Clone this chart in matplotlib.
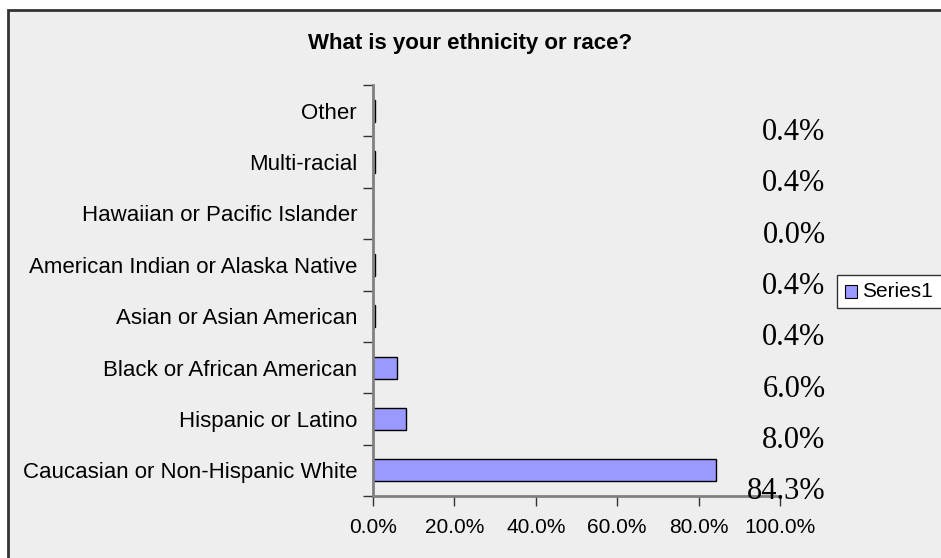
import matplotlib.pyplot as plt
from matplotlib.patches import Rectangle
from matplotlib.ticker import FuncFormatter

categories = ["Caucasian or Non-Hispanic White", "Hispanic or Latino",
              "Black or African American", "Asian or Asian American",
              "American Indian or Alaska Native", "Hawaiian or Pacific Islander",
              "Multi-racial", "Other"]
values = [84.3, 8.0, 6.0, 0.4, 0.4, 0.0, 0.4, 0.4]
xticks = [0, 20, 40, 60, 80, 100]

fig = plt.figure(figsize=(9.41, 5.58), dpi=100)
fig.patch.set_facecolor("white")

# outer chart frame (gray area with dark border on left/top)
frame = Rectangle((8 / 941, -0.01), 1, 1.01 - 9.5 / 558,
                  transform=fig.transFigure, facecolor="#eeeeee",
                  edgecolor="#333333", linewidth=2, zorder=-10)
fig.patches.append(frame)

ax = fig.add_axes([373 / 941, 62 / 558, 407 / 941, 411 / 558])
ax.set_facecolor("none")

pos = list(range(len(categories)))
ax.barh(pos, values, height=0.43, color="#9999ff", edgecolor="black",
        linewidth=1, zorder=1)

ax.set_xlim(0, 100)
ax.set_ylim(-0.5, len(categories) - 0.5)
ax.set_xticks(xticks)
ax.xaxis.set_major_formatter(FuncFormatter(lambda v, p: "%.1f%%" % v))
ax.set_yticks(pos)
ax.set_yticklabels(categories)
ax.set_yticks([p - 0.5 for p in pos] + [len(categories) - 0.5], minor=True)

for s in ["top", "right"]:
    ax.spines[s].set_visible(False)
for s in ["left", "bottom"]:
    ax.spines[s].set_color("#808080")
    ax.spines[s].set_linewidth(2)
    ax.spines[s].set_zorder(5)

ax.tick_params(axis="y", which="major", length=0, pad=11.5, labelsize=16)
ax.tick_params(axis="y", which="minor", length=7, color="#333333", width=1)
ax.tick_params(axis="x", length=7, color="#333333", width=1, labelsize=15,
               pad=9)
for lab in ax.get_xticklabels() + ax.get_yticklabels():
    lab.set_family("Liberation Sans")

# data labels placed below-right of each category, as in the original
for p, v in zip(pos, values):
    ax.text(111.2, p - 0.42, "%.1f%%" % v, ha="right", va="center",
            fontsize=22, family="Liberation Serif", clip_on=False, zorder=6)

fig.text(0.5, 1 - 44 / 558, "What is your ethnicity or race?", ha="center",
         va="center", fontsize=16, fontweight="bold",
         family="Liberation Sans")

leg_ax = fig.add_axes([837 / 941, 250 / 558, 1, 33 / 558])
leg_ax.axis("off")
leg_ax.add_patch(Rectangle((0, 0), 1, 1, transform=leg_ax.transAxes,
                           facecolor="white", edgecolor="#333333",
                           linewidth=1, clip_on=False))
leg_ax.add_patch(Rectangle((8 / 941, 0.3), 12 / 941, 0.4,
                           transform=leg_ax.transAxes, facecolor="#9999ff",
                           edgecolor="black", linewidth=0.8, clip_on=False))
leg_ax.text(25 / 941, 0.5, "Series1", transform=leg_ax.transAxes,
            va="center", ha="left", fontsize=15, family="Liberation Sans")

fig.savefig("out.png", dpi=100)
